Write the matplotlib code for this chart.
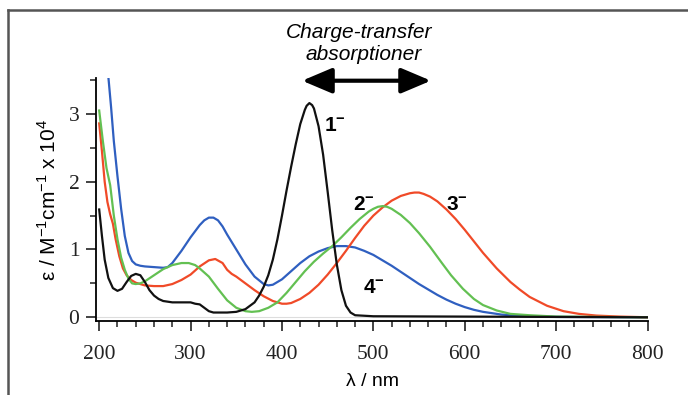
import numpy as np
import matplotlib
matplotlib.use("Agg")
import matplotlib.pyplot as plt
from matplotlib.lines import Line2D

plt.rcParams["font.family"] = ["Liberation Sans", "DejaVu Sans"]
plt.rcParams["mathtext.fontset"] = "custom"
plt.rcParams["mathtext.rm"] = "Liberation Sans"
plt.rcParams["mathtext.bf"] = "Liberation Sans:bold"

# 1- (black)
wl_1 = [200, 203, 206, 210, 215, 220, 225, 230, 235, 240, 245, 250, 255, 260, 265, 270,
        280, 290, 300, 305, 310, 315, 320, 325, 330, 340, 350, 360, 370, 375, 380, 385,
        390, 395, 400, 405, 410, 415, 420, 425, 427, 430, 433, 435, 440, 445, 450, 455,
        460, 465, 470, 475, 480, 500, 600, 800]
eps_1 = [1.59, 1.20, 0.85, 0.58, 0.43, 0.39, 0.42, 0.52, 0.61, 0.64, 0.62, 0.52, 0.40, 0.32, 0.27, 0.24,
         0.22, 0.22, 0.22, 0.20, 0.19, 0.14, 0.09, 0.07, 0.07, 0.07, 0.08, 0.12, 0.22, 0.32, 0.45, 0.62,
         0.85, 1.15, 1.50, 1.87, 2.22, 2.55, 2.85, 3.06, 3.12, 3.16, 3.13, 3.08, 2.82, 2.40, 1.85, 1.28,
         0.78, 0.40, 0.17, 0.07, 0.03, 0.015, 0.01, 0.0]

# 2- (green)
wl_2 = [200, 204, 208, 212, 216, 220, 224, 228, 232, 236, 240, 245, 250, 260, 270, 280, 290, 298,
        305, 310, 320, 330, 340, 350, 360, 367, 375, 385, 395, 405, 415, 425, 435, 445, 455, 465,
        475, 485, 495, 500, 505, 510, 515, 520, 530, 540, 550, 562, 575, 585, 598, 610, 620, 635,
        650, 671, 700, 800]
eps_2 = [3.05, 2.60, 2.20, 1.95, 1.50, 1.15, 0.88, 0.70, 0.57, 0.50, 0.49, 0.50, 0.53, 0.62, 0.71, 0.77, 0.80, 0.80,
         0.77, 0.72, 0.60, 0.42, 0.25, 0.14, 0.09, 0.08, 0.09, 0.14, 0.22, 0.36, 0.52, 0.68, 0.82, 0.94, 1.05, 1.18,
         1.32, 1.45, 1.56, 1.60, 1.63, 1.64, 1.63, 1.60, 1.51, 1.39, 1.24, 1.04, 0.80, 0.62, 0.42, 0.27, 0.18, 0.10,
         0.05, 0.03, 0.01, 0.0]

# 3- (red)
wl_3 = [200, 203, 206, 209, 212, 215, 218, 222, 226, 230, 235, 240, 250, 260, 270, 280, 290, 300,
        310, 320, 327, 335, 340, 345, 350, 360, 370, 380, 390, 400, 405, 410, 420, 430, 440, 450,
        460, 470, 480, 490, 500, 510, 520, 530, 540, 545, 550, 555, 562, 570, 580, 590, 600, 610,
        620, 635, 650, 660, 671, 690, 708, 725, 744, 770, 800]
eps_3 = [2.86, 2.45, 2.00, 1.70, 1.52, 1.38, 1.15, 0.90, 0.72, 0.62, 0.55, 0.51, 0.47, 0.46, 0.46, 0.49, 0.55, 0.63,
         0.75, 0.84, 0.86, 0.80, 0.70, 0.64, 0.60, 0.50, 0.40, 0.31, 0.24, 0.20, 0.20, 0.21, 0.27, 0.36, 0.48, 0.63,
         0.80, 0.98, 1.17, 1.35, 1.50, 1.62, 1.72, 1.79, 1.83, 1.84, 1.84, 1.82, 1.78, 1.71, 1.59, 1.45, 1.29, 1.12,
         0.95, 0.72, 0.52, 0.41, 0.30, 0.17, 0.09, 0.05, 0.025, 0.01, 0.0]

# 4- (blue)
wl_4 = [210, 213, 216, 220, 224, 228, 232, 236, 240, 245, 250, 260, 270, 275, 280, 290, 300, 310,
        315, 320, 325, 330, 335, 340, 350, 360, 370, 380, 385, 390, 400, 410, 420, 430, 440, 450,
        460, 470, 480, 490, 500, 510, 520, 530, 540, 550, 560, 570, 580, 590, 600, 610, 620, 640,
        660, 700, 800]
eps_4 = [3.55, 3.10, 2.60, 2.08, 1.60, 1.20, 0.95, 0.83, 0.78, 0.76, 0.75, 0.74, 0.73, 0.74, 0.80, 0.98, 1.18, 1.36,
         1.43, 1.47, 1.47, 1.43, 1.34, 1.22, 1.00, 0.78, 0.60, 0.49, 0.47, 0.48, 0.56, 0.68, 0.80, 0.90, 0.97, 1.02,
         1.05, 1.05, 1.03, 0.98, 0.92, 0.84, 0.76, 0.67, 0.58, 0.49, 0.41, 0.33, 0.26, 0.20, 0.15, 0.11, 0.08, 0.04,
         0.02, 0.005, 0.0]

labels = ["1", "2", "3", "4"]
label_x = [446, 478, 579, 489]
label_y = [2.75, 1.58, 1.58, 0.36]

x_ticks = [200, 300, 400, 500, 600, 700, 800]
y_ticks = [0, 1, 2, 3]

fig = plt.figure(figsize=(6.88, 3.95), dpi=100)
ax = fig.add_axes([96 / 688, 1 - 321 / 395, 552 / 688, 243 / 395])

ax.axhline(0, color="#dddddd", lw=0.8, zorder=0)
ax.plot(wl_4, eps_4, color="#2f5fc0", lw=1.6)
ax.plot(wl_3, eps_3, color="#f04a28", lw=1.6)
ax.plot(wl_2, eps_2, color="#63c052", lw=1.6)
ax.plot(wl_1, eps_1, color="#111111", lw=1.6)

ax.set_xlim(196.5, 800.5)
ax.set_ylim(-0.055, 3.53)
for s in ["top", "right"]:
    ax.spines[s].set_visible(False)
ax.spines["left"].set_linewidth(1.3)
ax.spines["bottom"].set_linewidth(1.3)

ax.set_xticks(x_ticks)
ax.set_xticks(np.arange(200, 801, 20), minor=True)
ax.set_yticks(y_ticks)
ax.set_yticks([0.5, 1.5, 2.5, 3.5], minor=True)
ax.tick_params(which="major", direction="out", length=7, width=1.2, pad=10,
               labelsize=15.5, labelfontfamily="Liberation Serif", colors="#222222")
ax.tick_params(which="minor", direction="out", length=4, width=1.1, colors="#222222")
ax.tick_params(axis="y", which="major", pad=5)

ax.set_xlabel("λ / nm", fontsize=14, labelpad=7)
ax.set_ylabel(r"ε / M$^{-1}$cm$^{-1}$ x 10$^{4}$", fontsize=15, labelpad=6)

for lab, lx, ly in zip(labels, label_x, label_y):
    ax.text(lx, ly, r"$\mathbf{" + lab + r"^{-}}$", fontsize=15, ha="left", va="baseline")

fig.text(359 / 688, 1 - 33 / 395, "Charge-transfer", fontsize=15, style="italic",
         ha="center", va="center")
fig.text(364 / 688, 1 - 54 / 395, "absorptioner", fontsize=15, style="italic",
         ha="center", va="center")
ax.annotate("", xy=(422, 3.49), xytext=(563, 3.49), xycoords="data",
            arrowprops=dict(arrowstyle="<|-|>,head_length=1.3,head_width=0.55",
                            mutation_scale=14, lw=3, color="black",
                            shrinkA=0, shrinkB=0),
            annotation_clip=False)

# frame around the picture
fig.add_artist(Line2D([8 / 688, 1], [1 - 10 / 395, 1 - 10 / 395], color="#555555", lw=1.8))
fig.add_artist(Line2D([8 / 688, 8 / 688], [0, 1 - 10 / 395], color="#555555", lw=1.8))

fig.savefig("out.png", dpi=100)
